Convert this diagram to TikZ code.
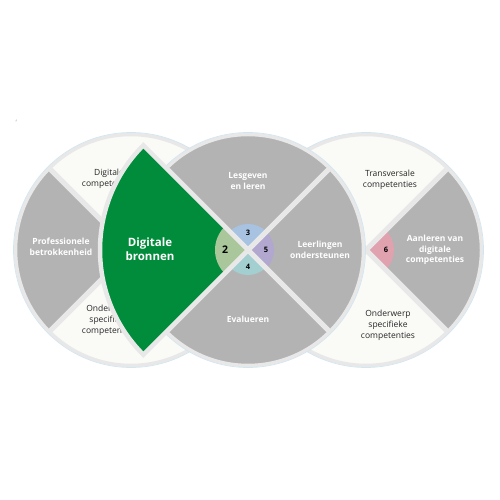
\documentclass[tikz,border=0pt]{standalone}
\usepackage{amssymb}
\usepackage{fontspec}
\setmainfont{Open Sans}
\usepackage{xcolor}
\definecolor{bronnengreen}{HTML}{008C3A}
\definecolor{sectorgray}{HTML}{B3B3B3}
\definecolor{bandwhite}{HTML}{FAFAF7}
\definecolor{gapgray}{HTML}{E8E8E8}
\definecolor{rimblue}{HTML}{D3E5F0}
\definecolor{wedgegreen}{HTML}{A9C79A}
\definecolor{wedgeblue}{HTML}{A8C3E2}
\definecolor{wedgeteal}{HTML}{A3CFD1}
\definecolor{wedgepurple}{HTML}{B1A7CF}
\definecolor{wedgepink}{HTML}{DFA2AE}
\usepackage{tikz}

\begin{document}
\begin{tikzpicture}[
  x=1pt, y=1pt,
  gap/.style={draw=gapgray, line width=5pt},
  rim/.style={draw=gapgray, line width=3.5pt},
  rimouter/.style={draw=rimblue, line width=0.7pt},
  area/.style={font=\fontsize{8.5}{10.5}\selectfont\bfseries, text=white, align=center},
  band/.style={font=\fontsize{8.5}{11}\selectfont, text=black!85, align=center},
  num/.style={font=\fontsize{7.5}{8}\selectfont\bfseries, text=black}
]

\fill[white] (0,0) rectangle (500,500);
\useasboundingbox (0,0) rectangle (500,500);

\coordinate (cL) at (131,250);
\coordinate (cM) at (248,250);
\coordinate (cR) at (366,250);

% ---- Linker cirkel ----
\fill[bandwhite] (cL) circle[radius=115pt];
\fill[sectorgray] (cL) -- ++(135:115pt) arc[start angle=135, end angle=225, radius=115pt] -- cycle;
\draw[gap] (cL) ++(45:115pt) -- ++(225:230pt);
\draw[gap] (cL) ++(-45:115pt) -- ++(135:230pt);
\draw[rim] (cL) circle[radius=115.5pt];
\draw[rimouter] (cL) circle[radius=117.5pt];

\node[area] (prof) at (61,253) {Professionele\\betrokkenheid};
\node[band] (digcomp) at (109,321) {Digitale\\competenties};
\node[band] (ondL) at (109,180) {Onderwerp\\specifieke\\competenties};

% ---- Rechter cirkel ----
\fill[bandwhite] (cR) circle[radius=115pt];
\fill[sectorgray] (cR) -- ++(-45:115pt) arc[start angle=-45, end angle=45, radius=115pt] -- cycle;
\fill[wedgepink] (cR) -- ++(-45:28pt) arc[start angle=-45, end angle=45, radius=28pt] -- cycle;
\draw[gap] (cR) ++(45:115pt) -- ++(225:230pt);
\draw[gap] (cR) ++(-45:115pt) -- ++(135:230pt);
\draw[rim] (cR) circle[radius=115.5pt];
\draw[rimouter] (cR) circle[radius=117.5pt];

\node[band] (transv) at (390,320) {Transversale\\competenties};
\node[area] (aanl) at (435,250) {Aanleren van\\digitale\\competenties};
\node[band] (ondR) at (388,175) {Onderwerp\\specifieke\\competenties};
\node[num] (n6) at (386,250) {6};

% ---- Middelste cirkel ----
\fill[sectorgray] (cM) circle[radius=115pt];
\fill[wedgeblue] (cM) -- ++(45:26pt) arc[start angle=45, end angle=135, radius=26pt] -- cycle;
\fill[wedgepurple] (cM) -- ++(-45:26pt) arc[start angle=-45, end angle=45, radius=26pt] -- cycle;
\fill[wedgeteal] (cM) -- ++(225:25pt) arc[start angle=225, end angle=315, radius=25pt] -- cycle;
\draw[gap] (cM) ++(45:115pt) -- ++(225:230pt);
\draw[gap] (cM) ++(-45:115pt) -- ++(135:230pt);
\draw[rim] (cM) circle[radius=115.5pt];
\draw[rimouter] (cM) circle[radius=117.5pt];

\node[area] (lesg) at (248,319) {Lesgeven\\en leren};
\node[area] (leerl) at (320,250) {Leerlingen\\ondersteunen};
\node[area] (eval) at (248,181) {Evalueren};
\node[num] (n3) at (248,267) {3};
\node[num] (n5) at (266,250) {5};
\node[num] (n4) at (248,233) {4};

% ---- Digitale bronnen ----
\fill[bronnengreen] (cM) -- ++(135:148pt) arc[start angle=135, end angle=225, radius=148pt] -- cycle;
\fill[wedgegreen] (cM) -- ++(135:33pt) arc[start angle=135, end angle=225, radius=33pt] -- cycle;
\draw[gap, line width=4.5pt, line join=miter] (cM) -- ++(135:148pt) arc[start angle=135, end angle=225, radius=148pt] -- cycle;

\node[area, font=\fontsize{11.5}{14}\selectfont\bfseries] (bronnen) at (150,251) {Digitale\\bronnen};
\node[num, font=\fontsize{10.5}{11}\selectfont\bfseries] (n2) at (225,250) {2};

% ---- Klein icoon ----
\node[font=\fontsize{4}{4}\selectfont, text=gray] (icon) at (16,379) {$\lrcorner$};

\end{tikzpicture}
\end{document}
